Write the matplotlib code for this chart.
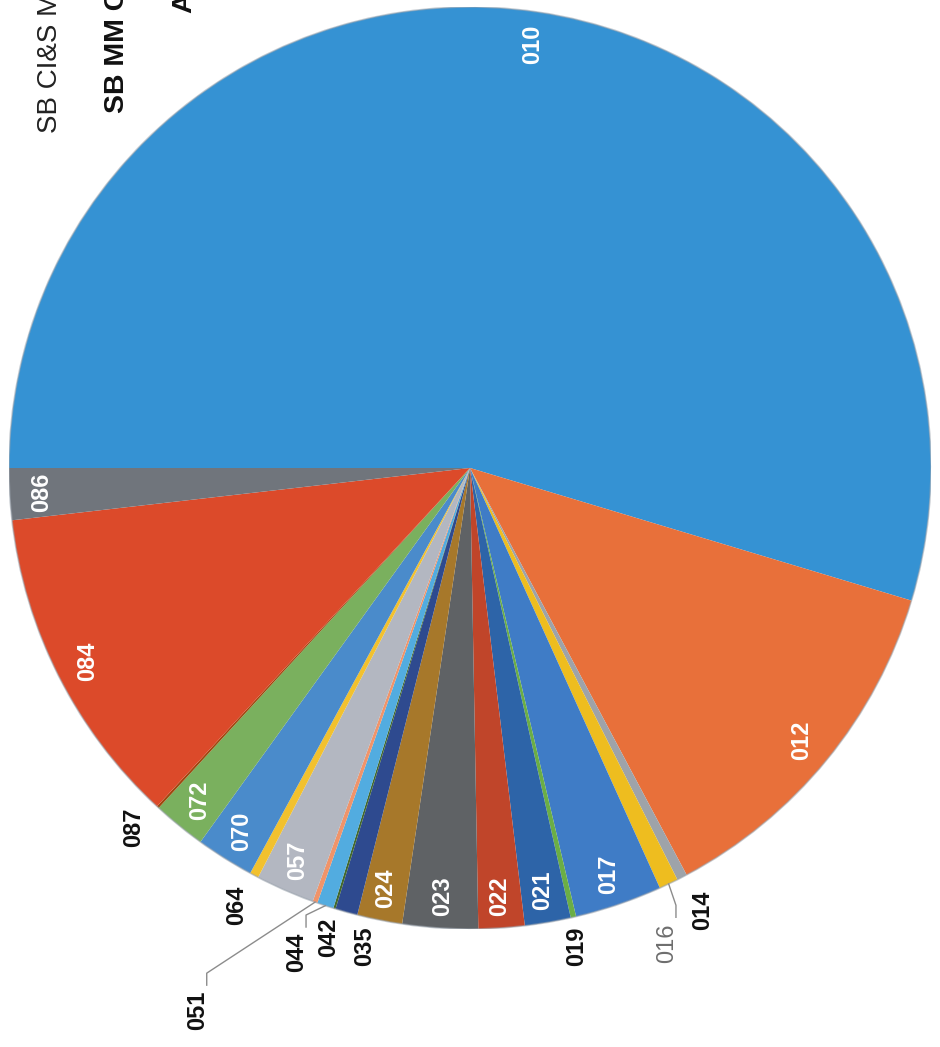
import numpy as np
import matplotlib
matplotlib.use("Agg")
import matplotlib.pyplot as plt

# ---------------- data ----------------
codes = ["010", "012", "014", "016", "017", "019", "021", "022", "023", "024",
         "035", "042", "044", "051", "057", "064", "070", "072", "087", "084", "086"]
shares = [54.65, 12.57, 0.36, 0.67, 3.06, 0.19, 1.61, 1.61, 2.64, 1.58,
          0.78, 0.08, 0.58, 0.17, 2.06, 0.31, 2.03, 1.86, 0.08, 11.31, 1.81]
colors = ["#3592d3", "#e8703a", "#9ea3a9", "#eebd1f", "#3f7cc6", "#6bae45",
          "#2d64a8", "#c0452a", "#5f6265", "#a7782a", "#2e4a8f", "#43682b",
          "#52ace0", "#f0946a", "#b3b7c1", "#f2c12e", "#4a8bcb", "#7ab05e",
          "#9e480e", "#dc4a2a", "#70757c"]

# title fragments visible on the (rotated, cropped) scan
title_lines = ["SB CI&S M", "SB MM C", "A"]

# ---------------- label layout ----------------
# inside labels (white) at this radius along the slice middle
inside_r = 0.93
# outside labels: code -> (clockwise angle offset in degrees, radius, leader line?)
outside = {
    "014": (-0.35, 1.083, False),
    "016": (3.0, 1.115, True),
    "019": (0.35, 1.063, False),
    "035": (-3.2, 1.063, False),
    "042": (-0.35, 1.063, False),
    "044": (1.35, 1.116, True),
    "051": (7.0, 1.317, True),
    "064": (0.15, 1.075, False),
    "087": (0.45, 1.068, False),
}

W, H = 940, 1047
R_PX = 461
CX, CY = 470, 468

fig = plt.figure(figsize=(W / 100, H / 100), dpi=100)
fig.patch.set_facecolor("white")
ax = fig.add_axes([(CX - R_PX) / W, (H - CY - R_PX) / H, 2 * R_PX / W, 2 * R_PX / H])

wedges, _ = ax.pie(shares, colors=colors, startangle=180, counterclock=False,
                   radius=1.0, wedgeprops=dict(linewidth=0, antialiased=True))
ax.set_xlim(-1, 1)
ax.set_ylim(-1, 1)
ax.axis("off")

# faint rim shadow of the scan
circ = plt.Circle((0, 0), 1.0, fill=False, edgecolor="#9aa3ad", lw=1.2, alpha=0.55)
ax.add_patch(circ)

font = "Liberation Sans"
hw = 9 / R_PX
hh = 19.5 / R_PX
for w, code in zip(wedges, codes):
    mid = 0.5 * (w.theta1 + w.theta2)
    if code in outside:
        off, r, leader = outside[code]
        a = np.deg2rad(mid - off)
        lx, ly = r * np.cos(a), r * np.sin(a)
        col = "#111111"
        weight = "bold"
        if code == "016":
            col, weight = "#6e6e6e", "normal"
        ax.text(lx, ly, code, rotation=90, rotation_mode="anchor", ha="center",
                va="center", fontsize=17, fontweight=weight, color=col,
                family=font, clip_on=False)
        if leader:
            am = np.deg2rad(mid)
            xs = [np.cos(am), lx + hw, lx + hw]
            ys = [np.sin(am), ly + hh + 18 / R_PX, ly + hh + 6 / R_PX]
            ax.plot(xs, ys, color="#8c8c8c", lw=1.0, clip_on=False)
    else:
        a = np.deg2rad(mid)
        ax.text(inside_r * np.cos(a), inside_r * np.sin(a), code, rotation=90,
                rotation_mode="anchor", ha="center", va="center", fontsize=17,
                fontweight="bold", color="white", family=font)

# title fragments (rotated page)
fig.text(57 / W, 1 - 133 / H, title_lines[0], rotation=90, rotation_mode="anchor",
         ha="left", va="baseline", fontsize=20, color="#222222", family=font)
fig.text(124 / W, 1 - 113 / H, title_lines[1], rotation=90, rotation_mode="anchor",
         ha="left", va="baseline", fontsize=20.5, fontweight="bold", color="#111111",
         family=font)
fig.text(191 / W, 1 - 13 / H, title_lines[2], rotation=90, rotation_mode="anchor",
         ha="left", va="baseline", fontsize=20.5, fontweight="bold", color="#111111",
         family=font)

fig.savefig("out.png", dpi=100)
